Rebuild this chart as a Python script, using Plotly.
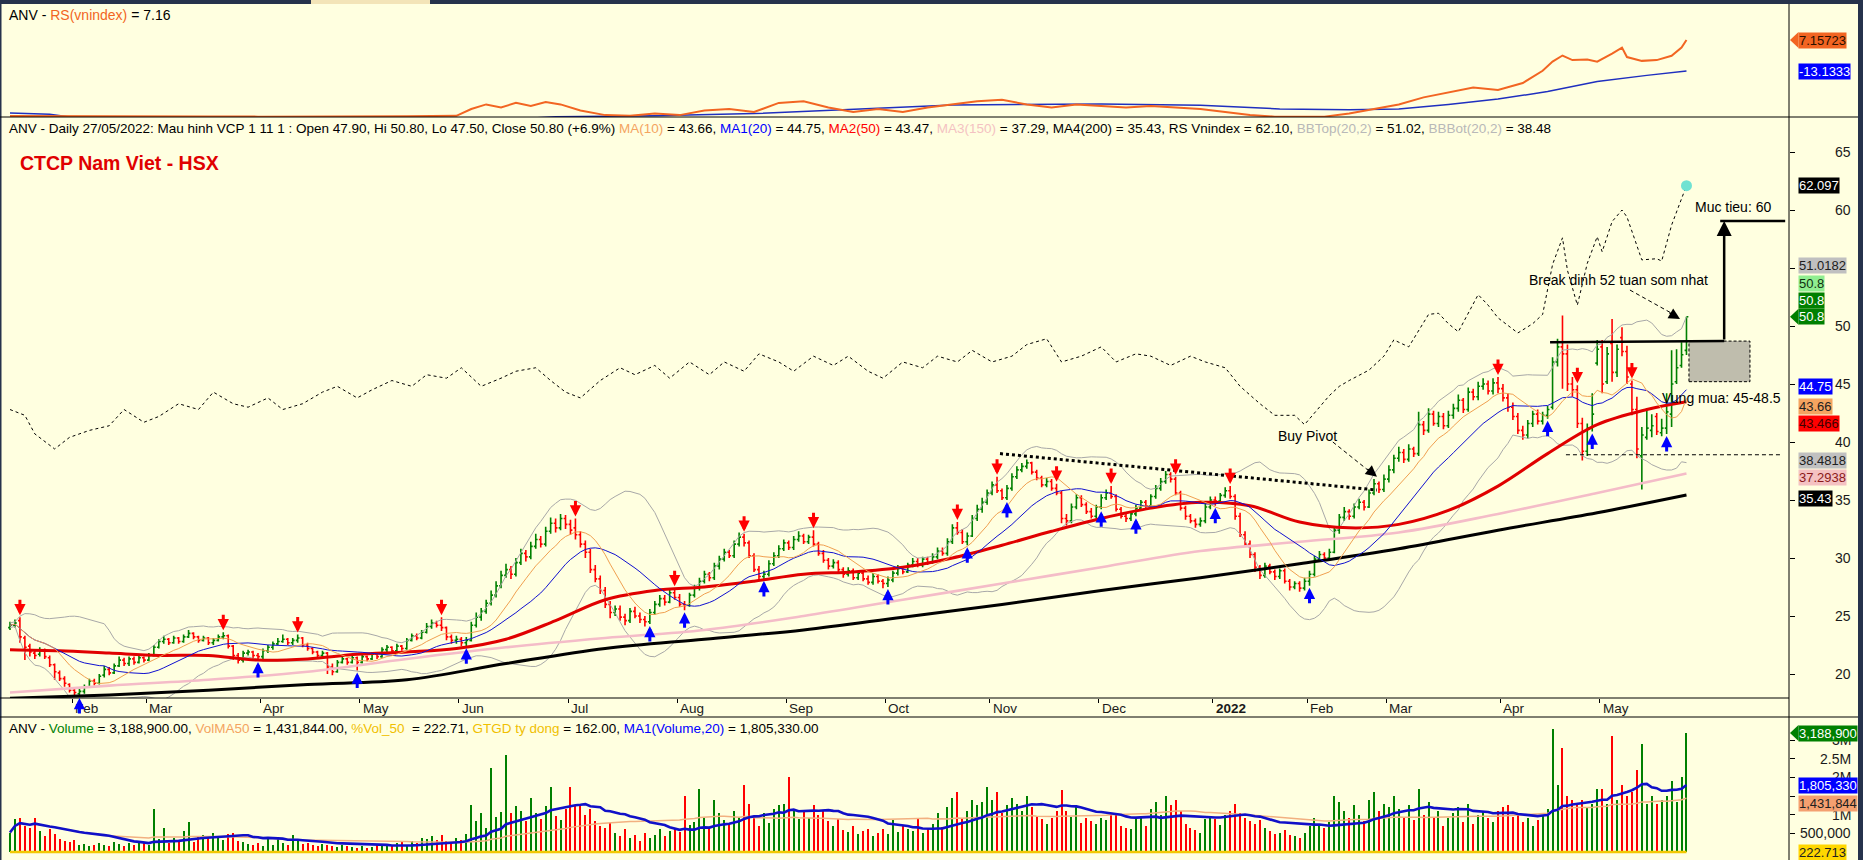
import numpy as np
import pandas as pd
import plotly.graph_objects as go

W, H = 1863, 860
FONT = "Liberation Sans, Arial, sans-serif"

# ---------------- DATA ----------------
HOLIDAYS = ["2021-02-10", "2021-02-11", "2021-02-12", "2021-02-15", "2021-02-16",
            "2021-04-21", "2021-04-30", "2021-05-03", "2021-09-02", "2021-09-03",
            "2022-01-03", "2022-01-31", "2022-02-01", "2022-02-02", "2022-02-03",
            "2022-02-04", "2022-04-11", "2022-05-02", "2022-05-03"]

CLOSE = [
    24.2, 24.4, 23.2, 22.3, 21.9, 21.6, 22.0, 21.5, 20.8, 20.2, 19.6, 19.2,
    18.6, 18.4, 18.5, 18.9, 19.4, 19.2, 19.8, 20.4, 20.1, 20.7, 21.2, 20.9, 21.3, 21.0, 21.4,
    21.2, 21.6, 22.3, 22.8, 23.0, 22.7, 23.1, 22.8, 23.2, 23.5, 23.2, 22.9, 23.1, 22.7, 22.9, 23.2, 23.3, 22.4, 21.6, 21.2, 21.8, 21.9, 21.6,
    21.5, 22.0, 22.3, 22.6, 22.8, 23.0, 22.7, 22.9, 23.1, 22.5, 22.2, 21.9, 21.6, 21.8, 20.6, 20.2, 21.0, 21.3, 21.0, 21.4,
    21.0, 21.5, 21.3, 21.7, 21.5, 22.1, 22.3, 22.0, 22.4, 22.2, 22.9, 23.3, 23.1, 23.6, 24.1, 24.4, 24.2, 24.0, 23.2, 22.9,
    23.0, 22.7, 22.9, 24.2, 24.9, 25.4, 26.1, 26.8, 27.6, 28.5, 29.0, 28.6, 29.6, 30.4, 30.1, 31.0, 31.6, 31.2, 32.3, 33.0, 32.6, 33.4,
    32.9, 32.4, 32.0, 31.2, 30.5, 29.0, 28.2, 27.2, 26.0, 25.3, 25.6, 24.9, 24.6, 25.4, 25.0, 24.7, 24.5, 25.3, 26.0, 26.5, 26.2, 27.0,
    26.6, 26.0, 25.9, 26.8, 27.4, 28.0, 28.6, 28.3, 29.3, 29.9, 30.5, 30.2, 31.2, 31.8, 31.3, 30.2, 29.0, 28.4, 28.6, 29.5, 30.2, 30.8,
    31.3, 30.9, 31.6, 31.9, 31.4, 31.8, 31.2, 30.4, 29.8, 29.3, 29.6, 29.0, 28.6, 28.9, 28.3, 28.7, 28.2, 27.9, 28.4, 28.0,
    27.8, 28.1, 28.7, 29.1, 28.8, 29.4, 29.7, 29.4, 29.9, 29.6, 30.1, 30.6, 30.4, 31.4, 32.6, 32.2, 31.4, 31.9, 33.4, 34.2, 34.8,
    35.6, 36.3, 35.8, 35.2, 36.0, 37.0, 37.6, 37.9, 38.2, 37.4, 36.9, 36.3, 36.6, 36.0, 35.6, 33.4, 33.2, 34.4, 35.2, 34.6, 34.0, 33.6,
    34.4, 35.2, 35.6, 35.3, 34.2, 33.6, 33.4, 33.8, 34.3, 34.8, 34.5, 35.3, 36.0, 36.6, 37.2, 36.8, 35.6, 34.3, 33.6, 33.2, 32.9, 33.2, 34.4,
    35.0, 34.9, 35.4, 35.8, 35.3, 33.6, 32.0, 31.2, 30.3, 29.2, 28.5, 29.3, 28.8, 28.4, 28.9, 28.0, 27.5, 27.8, 27.4,
    28.0, 28.6, 29.9, 30.3, 30.0, 30.5, 32.4, 33.5, 34.0, 33.6, 34.4, 34.8, 34.4, 35.6, 36.4, 35.9,
    36.8, 37.6, 38.6, 39.1, 38.5, 39.4, 39.0, 41.5, 41.0, 42.4, 41.6, 42.2, 41.4, 42.3, 42.9, 43.6, 42.8, 44.3, 43.9, 44.8, 45.0, 44.4, 45.1,
    44.6, 43.8, 43.0, 42.2, 41.0, 40.6, 41.6, 42.4, 41.8, 42.3, 42.8, 46.9, 48.2, 47.6, 45.0, 44.5, 41.6, 39.2, 41.2, 42.4,
    48.0, 45.0, 47.6, 46.0, 48.0, 47.8, 45.6, 42.8, 39.4, 40.6, 41.2, 41.4, 40.9, 41.2, 42.6, 45.0, 46.4, 47.52, 50.8,
]

OPEN = [
    24.0, 24.2, 24.6, 23.1, 22.4, 21.8, 21.7, 22.0, 21.4, 20.8, 20.1, 19.6,
    19.1, 18.6, 18.3, 18.5, 18.9, 19.4, 19.2, 19.9, 20.4, 20.1, 20.7, 21.2, 20.9, 21.3, 21.0,
    21.4, 21.2, 21.6, 22.3, 22.8, 23.0, 22.7, 23.1, 22.8, 23.2, 23.5, 23.2, 22.9, 23.1, 22.7, 22.9, 23.2, 23.3, 22.4, 21.6, 21.2, 21.8, 21.9,
    21.6, 21.5, 22.0, 22.3, 22.6, 22.8, 23.0, 22.7, 22.9, 23.1, 22.5, 22.2, 21.9, 21.6, 21.8, 20.6, 20.2, 21.0, 21.3, 21.0,
    21.4, 21.0, 21.5, 21.3, 21.7, 21.5, 22.1, 22.3, 22.0, 22.4, 22.2, 22.9, 23.3, 23.1, 23.6, 24.1, 24.4, 24.2, 24.0, 23.2,
    22.9, 23.0, 22.7, 22.9, 24.2, 24.9, 25.4, 26.1, 26.8, 27.6, 28.5, 29.0, 28.6, 29.6, 30.4, 30.1, 31.0, 31.6, 31.2, 32.3, 33.0, 32.6,
    33.4, 32.9, 32.6, 32.0, 31.2, 30.5, 29.0, 28.2, 27.2, 26.0, 25.3, 25.6, 24.9, 24.6, 25.4, 25.0, 24.7, 24.5, 25.3, 26.0, 26.5, 26.2,
    27.0, 26.6, 26.0, 25.9, 26.8, 27.4, 28.0, 28.6, 28.3, 29.3, 29.9, 30.5, 30.2, 31.2, 31.8, 31.3, 30.2, 29.0, 28.4, 28.6, 29.5, 30.2,
    30.8, 31.3, 30.9, 31.6, 31.9, 31.4, 31.8, 31.2, 30.4, 29.8, 29.3, 29.6, 29.0, 28.6, 28.9, 28.3, 28.7, 28.2, 27.9, 28.4,
    28.0, 27.8, 28.1, 28.7, 29.1, 28.8, 29.4, 29.7, 29.4, 29.9, 29.6, 30.1, 30.6, 30.4, 31.4, 32.6, 32.2, 31.4, 31.9, 33.4, 34.2,
    34.8, 35.6, 36.3, 35.8, 35.2, 36.0, 37.0, 37.6, 37.9, 38.2, 37.4, 36.9, 36.3, 36.6, 36.0, 35.6, 33.4, 33.2, 34.4, 35.2, 34.6, 34.0,
    33.6, 34.4, 35.2, 35.6, 35.3, 34.2, 33.6, 33.4, 33.8, 34.3, 34.8, 34.5, 35.3, 36.0, 36.6, 37.2, 36.8, 35.6, 34.3, 33.6, 33.2, 32.9, 33.2,
    34.4, 35.0, 34.9, 35.4, 35.8, 35.3, 33.6, 32.0, 31.2, 30.3, 29.2, 28.5, 29.3, 28.8, 28.4, 28.9, 28.0, 27.5, 27.8,
    27.4, 28.0, 28.6, 29.9, 30.3, 30.0, 30.5, 32.4, 33.5, 34.0, 33.6, 34.4, 34.8, 34.4, 35.6, 36.4,
    35.9, 36.8, 37.6, 38.6, 39.1, 38.5, 39.4, 39.0, 41.5, 41.0, 42.4, 41.6, 42.2, 41.4, 42.3, 42.9, 43.6, 42.8, 44.3, 43.9, 44.8, 45.0, 44.4,
    45.1, 44.6, 43.8, 43.0, 42.2, 41.0, 40.6, 41.6, 42.4, 41.8, 42.3, 43.0, 46.9, 48.2, 47.6, 45.0, 44.5, 41.6, 39.2, 41.2,
    46.8, 48.2, 45.2, 48.5, 46.0, 49.0, 47.8, 45.0, 42.8, 38.8, 40.4, 41.0, 42.2, 40.8, 41.2, 42.4, 45.2, 46.6, 47.9,
]

HIGH = [
    24.5, 24.7, 24.9, 23.3, 22.6, 22.1, 22.3, 22.2, 21.6, 20.9, 20.3, 19.8,
    19.2, 18.8, 18.7, 19.1, 19.6, 19.6, 20.0, 20.7, 20.6, 20.9, 21.5, 21.4, 21.5, 21.5, 21.6,
    21.5, 21.8, 22.5, 23.0, 23.3, 23.1, 23.3, 23.2, 23.4, 23.8, 23.6, 23.3, 23.3, 23.2, 23.1, 23.4, 23.6, 23.4, 22.5, 21.8, 22.0, 22.1, 22.0,
    21.8, 22.2, 22.5, 22.8, 23.1, 23.4, 23.1, 23.1, 23.4, 23.2, 22.7, 22.3, 22.0, 22.0, 21.9, 20.9, 21.2, 21.5, 21.4, 21.6,
    21.5, 21.7, 21.6, 21.9, 21.8, 22.3, 22.5, 22.4, 22.6, 22.5, 23.1, 23.5, 23.5, 23.8, 24.4, 24.7, 24.6, 24.9, 24.1, 23.4,
    23.3, 23.2, 23.2, 24.5, 25.3, 25.7, 26.4, 27.2, 28.0, 28.9, 29.5, 29.3, 30.0, 30.8, 30.7, 31.4, 32.1, 31.9, 32.7, 33.5, 33.4, 33.8,
    33.7, 33.3, 33.4, 32.3, 31.5, 30.8, 29.4, 28.5, 27.5, 26.3, 25.9, 25.9, 25.2, 25.7, 25.8, 25.3, 25.0, 25.6, 26.3, 26.8, 26.8, 27.3,
    27.4, 26.9, 26.3, 27.0, 27.7, 28.3, 28.9, 28.8, 29.6, 30.2, 30.8, 30.7, 31.5, 32.2, 32.1, 31.5, 30.4, 29.3, 28.9, 29.8, 30.5, 31.1,
    31.6, 31.5, 31.9, 32.3, 32.1, 32.0, 32.4, 31.4, 30.7, 30.0, 29.9, 29.8, 29.2, 29.2, 29.1, 28.9, 28.9, 28.5, 28.7, 28.6,
    28.2, 28.4, 28.9, 29.4, 29.3, 29.6, 30.0, 30.0, 30.1, 30.1, 30.4, 30.9, 30.9, 31.7, 32.9, 33.1, 32.5, 32.2, 33.7, 34.6, 35.2,
    35.9, 36.6, 37.0, 36.0, 36.3, 37.3, 37.9, 38.2, 38.5, 38.3, 37.6, 37.1, 36.9, 36.8, 36.4, 35.8, 33.8, 34.7, 35.5, 35.4, 34.8, 34.3,
    34.6, 35.5, 35.9, 36.2, 35.5, 34.4, 33.9, 34.0, 34.6, 35.0, 35.0, 35.5, 36.3, 36.9, 37.5, 37.4, 37.0, 35.8, 34.5, 33.8, 33.4, 33.5, 34.7,
    35.3, 35.3, 35.6, 36.1, 36.2, 35.5, 33.9, 32.3, 31.5, 30.5, 29.4, 29.6, 29.5, 29.0, 29.1, 29.1, 28.2, 28.0, 28.0,
    28.3, 28.9, 30.2, 30.6, 30.5, 30.8, 32.6, 33.8, 34.4, 34.2, 34.7, 35.1, 35.0, 35.9, 36.8, 36.6,
    37.2, 38.0, 38.9, 39.6, 39.4, 39.8, 39.6, 42.6, 41.8, 42.9, 42.7, 42.6, 42.5, 42.7, 43.3, 44.1, 43.8, 44.7, 44.6, 45.2, 45.5, 45.3, 45.5,
    45.6, 45.0, 44.2, 43.4, 42.5, 41.4, 41.9, 42.7, 42.8, 42.6, 43.1, 47.3, 48.9, 50.9, 48.4, 45.6, 44.9, 42.1, 41.6, 44.2,
    48.8, 48.8, 48.2, 50.6, 48.4, 49.9, 48.3, 45.3, 43.9, 41.3, 42.8, 42.4, 42.5, 42.0, 44.2, 47.9, 48.0, 48.6, 50.8,
]

LOW = [
    23.8, 24.0, 22.7, 21.2, 21.5, 21.3, 21.5, 21.3, 20.6, 19.5, 19.4, 18.9,
    18.4, 18.2, 18.1, 18.3, 18.8, 19.0, 19.1, 19.7, 19.9, 20.0, 20.6, 20.7, 20.7, 20.8, 20.9,
    21.0, 21.1, 21.5, 22.2, 22.6, 22.5, 22.6, 22.6, 22.7, 23.1, 23.0, 22.7, 22.8, 22.5, 22.5, 22.8, 23.0, 22.2, 21.2, 20.9, 21.0, 21.6, 21.3,
    21.2, 21.3, 21.8, 22.1, 22.5, 22.7, 22.5, 22.5, 22.7, 22.3, 22.0, 21.7, 21.4, 21.4, 20.0, 19.9, 20.1, 20.9, 20.8, 20.9,
    20.3, 20.9, 21.1, 21.2, 21.3, 21.4, 21.9, 21.8, 21.9, 22.0, 22.1, 22.8, 22.9, 23.0, 23.5, 23.9, 24.0, 23.7, 22.9, 22.6,
    22.6, 22.4, 22.4, 22.8, 24.0, 24.6, 25.2, 25.9, 26.6, 27.4, 28.3, 28.2, 28.4, 29.4, 29.7, 29.9, 30.8, 30.9, 31.0, 32.1, 32.2, 32.4,
    32.5, 32.0, 31.6, 30.9, 30.0, 28.7, 27.9, 26.9, 25.7, 24.8, 25.0, 24.6, 24.2, 24.4, 24.8, 24.4, 24.1, 24.3, 25.1, 25.8, 25.9, 26.1,
    26.4, 25.8, 25.5, 25.8, 26.6, 27.2, 27.8, 28.0, 28.1, 29.0, 29.7, 30.0, 30.0, 31.0, 31.0, 30.0, 28.8, 28.1, 28.2, 28.4, 29.3, 30.0,
    30.6, 30.7, 30.7, 31.4, 31.2, 31.2, 31.0, 30.2, 29.6, 29.0, 29.1, 28.8, 28.3, 28.4, 28.1, 28.1, 28.0, 27.7, 27.7, 27.8,
    27.4, 27.5, 27.9, 28.5, 28.6, 28.7, 29.2, 29.2, 29.2, 29.4, 29.5, 29.9, 30.2, 30.2, 31.2, 32.0, 31.2, 31.1, 31.8, 33.2, 33.9,
    34.6, 35.4, 35.6, 35.0, 35.0, 35.8, 36.8, 37.4, 37.7, 37.2, 36.7, 36.1, 36.1, 35.8, 35.4, 33.0, 32.8, 33.0, 34.2, 34.4, 33.8, 33.4,
    33.4, 34.2, 35.0, 35.1, 34.0, 33.4, 33.1, 33.2, 33.6, 34.1, 34.3, 34.3, 35.1, 35.8, 36.4, 36.5, 35.4, 34.1, 33.3, 33.0, 32.6, 32.7, 33.0,
    34.2, 34.5, 34.7, 35.2, 35.1, 33.3, 31.8, 31.0, 30.0, 28.8, 28.2, 28.3, 28.6, 28.1, 28.2, 27.8, 27.2, 27.3, 27.1,
    27.2, 27.6, 28.4, 29.7, 29.8, 29.8, 30.4, 32.1, 33.2, 33.3, 33.4, 34.2, 34.1, 34.3, 35.4, 35.6,
    35.7, 36.5, 37.3, 38.3, 38.2, 38.3, 38.7, 38.8, 40.6, 40.8, 41.4, 41.3, 41.1, 41.2, 42.0, 42.6, 42.5, 42.6, 43.6, 43.6, 44.5, 44.1, 44.1,
    44.2, 43.5, 42.6, 41.9, 40.7, 40.2, 40.3, 41.3, 41.5, 41.5, 42.0, 42.8, 46.5, 44.6, 44.4, 43.9, 41.2, 38.4, 38.8, 40.9,
    46.6, 44.2, 45.0, 45.2, 45.6, 47.4, 45.0, 42.3, 38.6, 35.9, 40.2, 40.4, 40.6, 40.5, 40.7, 41.3, 45.0, 46.4, 47.5,
]

VOLUME_K = [
    520, 880, 920, 700, 640, 900, 560, 420, 610, 480, 350, 300,
    260, 310, 180, 220, 160, 190, 230, 200, 170, 260, 210, 150, 240, 190, 280,
    230, 180, 1140, 350, 650, 240, 380, 300, 560, 800, 280, 430, 460, 380, 510, 420, 310, 490, 520, 300, 260, 210, 190,
    230, 160, 360, 200, 390, 250, 180, 450, 310, 210, 250, 180, 150, 220, 200, 170, 140, 180, 150, 130,
    120, 160, 110, 140, 180, 150, 200, 170, 230, 260, 190, 300, 250, 380, 350, 420, 330, 460, 290, 260,
    380, 310, 480, 1250, 820, 1050, 650, 2250, 950, 1080, 2600, 1040, 1220, 1100, 820, 1450, 1040, 880, 1220, 1750, 970, 860,
    1150, 1750, 1240, 1300, 980, 1150, 820, 700, 650, 780, 520, 430, 610, 380, 450, 300, 520, 380, 460, 610, 420, 560,
    650, 530, 1500, 720, 800, 1700, 900, 640, 1400, 1050, 860, 720, 1100, 940, 1800, 1300, 900, 700, 1050, 780, 1150, 1250,
    1300, 2000, 1150, 880, 1080, 900, 1250, 980, 1100, 830, 700, 880, 600, 540, 700, 480, 550, 620, 430, 510,
    620, 480, 850, 540, 700, 620, 560, 880, 500, 620, 760, 1050, 680, 1200, 1450, 1600, 900, 1100, 1400, 1250, 1350,
    1750, 1400, 1600, 1050, 1250, 1450, 1300, 1100, 1500, 1200, 950, 880, 760, 900, 1100, 1650, 1100, 950, 1200, 780, 900, 820,
    760, 920, 850, 1050, 980, 700, 650, 620, 880, 940, 700, 1150, 1350, 1000, 1500, 1250, 1400, 1100, 760, 650, 600, 520, 880,
    950, 880, 720, 1000, 1100, 1300, 1050, 900, 820, 760, 850, 640, 560, 480, 520, 600, 450, 420, 380,
    520, 700, 900, 760, 640, 800, 1500, 1350, 1100, 900, 1250, 1000, 820, 1400, 1600, 1100,
    1300, 1200, 1500, 1150, 900, 1250, 850, 1700, 1000, 1350, 950, 1100, 700, 900, 1050, 1200, 800, 1300, 750, 1000, 1100, 900, 800,
    1100, 1200, 1250, 950, 1000, 800, 900, 700, 850, 1000, 1150, 3300, 1800, 2800, 1500, 1400, 1300, 1400, 1200, 1300,
    1700, 1700, 1300, 3100, 1400, 1800, 1500, 1600, 2200, 2900, 1300, 1500, 1300, 1400, 1500, 1900, 1350, 2000, 3188.9,
]

RED_SIGNALS = [2, 43, 58, 87, 114, 134, 148, 162, 191, 199, 211, 222, 235, 246, 300, 316, 327]
BLUE_SIGNALS = [14, 50, 70, 92, 129, 136, 152, 177, 193, 201, 220, 227, 243, 262, 310, 319, 334]

MA50_X = [0, 10, 20, 30, 40, 50, 60, 70, 80, 90, 100, 110, 120, 130, 140, 150, 160, 170, 180, 190,
          200, 210, 220, 230, 240, 250, 260, 270, 280, 290, 300, 310, 320, 330, 338]
MA50_V = [22.1, 22.0, 21.8, 21.6, 21.6, 21.2, 21.3, 21.7, 21.9, 22.2, 23.0, 24.6, 26.4, 27.2, 27.5, 28.0,
          28.6, 28.8, 29.2, 30.0, 31.1, 32.3, 33.4, 34.3, 34.8, 34.5, 33.1, 32.6, 32.9, 34.1, 36.2, 39.0,
          41.5, 42.8, 43.47]
MA150_X = [0, 20, 40, 60, 80, 100, 120, 140, 160, 180, 200, 220, 240, 260, 280, 300, 320, 338]
MA150_V = [18.4, 19.0, 19.5, 20.2, 21.3, 22.3, 23.1, 23.8, 25.0, 26.4, 27.8, 29.2, 30.6, 31.4, 32.2,
           33.8, 35.6, 37.29]
MA200_X = [0, 20, 40, 60, 80, 100, 120, 140, 160, 180, 200, 220, 240, 260, 280, 300, 320, 338]
MA200_V = [17.9, 18.2, 18.6, 19.1, 19.5, 20.9, 22.2, 23.0, 23.8, 24.9, 26.0, 27.2, 28.3, 29.5, 30.8,
           32.4, 33.9, 35.43]

# RS Vnindex, drawn dotted on the price scale
RSV_X = [0, 3, 5, 9, 12, 16, 20, 23, 27, 30, 34, 38, 41, 45, 48, 52, 55, 59, 63, 66,
         70, 73, 77, 81, 84, 88, 91, 95, 99, 102, 106, 109, 112, 115, 119, 123, 126, 130, 133, 137,
         141, 144, 148, 151, 155, 158, 162, 166, 169, 173, 176, 180, 184, 187, 191, 194, 198, 202, 205, 209,
         212, 216, 220, 223, 227, 230, 234, 238, 241, 245, 248, 252, 255, 259, 261, 264, 266, 268, 270, 274,
         277, 279, 282, 286, 288, 290, 292, 296, 298, 300, 304, 307, 309, 311, 313, 314, 316, 318, 320, 321,
         323, 325, 326, 329, 332, 333, 335, 338]
RSV_V = [42.8, 42.3, 40.7, 39.4, 40.4, 41.0, 41.4, 42.8, 41.7, 42.2, 43.3, 42.8, 44.3, 43.3, 43.0, 43.8, 42.8, 43.3, 44.3, 44.8,
         43.8, 44.5, 45.3, 44.8, 45.8, 45.5, 46.4, 44.8, 45.5, 46.1, 46.4, 45.3, 44.3, 43.8, 45.3, 46.4, 45.8, 46.6, 45.5, 46.9,
         45.8, 46.9, 46.1, 47.6, 46.9, 46.1, 47.4, 46.6, 47.4, 46.1, 45.5, 46.9, 46.4, 47.4, 46.9, 47.9, 46.9, 47.4, 48.4, 48.9,
         46.9, 47.4, 48.2, 46.9, 47.6, 47.4, 46.6, 47.4, 46.9, 46.4, 44.8, 43.3, 42.3, 42.3, 41.5, 43.0, 44.0, 44.8, 45.3, 46.2,
         47.4, 48.8, 48.2, 51.0, 51.1, 50.2, 49.5, 52.7, 51.8, 50.7, 49.4, 50.2, 51.0, 55.3, 57.6, 54.8, 51.8, 55.4, 57.7, 56.4,
         59.0, 60.0, 59.4, 55.7, 55.8, 55.6, 58.7, 62.1]

# RS(vnindex) panel
RS_X = [0, 5, 10, 15, 20, 30, 40, 50, 60, 70, 80, 90, 93, 96, 99, 102, 105, 108, 111,
        115, 120, 125, 130, 135, 140, 145, 150, 155, 160, 165, 170, 175, 180, 185, 190, 195, 200, 205, 210,
        215, 220, 225, 230, 235, 240, 245, 250, 255, 260, 265, 270, 275, 280, 285, 290, 295, 300, 305,
        309, 311, 313, 315, 318, 320, 323, 325, 326, 329, 332, 335, 337, 338]
RS_V = [-42.6, -42.7, -42.8, -42.9, -43.0, -43.0, -42.9, -43.0, -43.0, -42.8, -42.7, -42.5, -38, -35, -37, -34, -36, -33.5, -35,
        -39, -42, -42.5, -41, -42, -39, -38, -40, -34, -33, -37, -40, -38, -40, -37, -35, -33, -32, -35, -37,
        -35, -36, -37, -36, -37, -38, -40, -42, -43, -43, -43, -41, -38, -35, -30.4, -27, -24, -25.6, -21,
        -13, -7, -3, -6, -5.6, -7, -1.7, 2.2, -4, -6.5, -6, -3.2, 2.2, 7.16]
RSMA_X = [0, 8, 15, 60, 100, 110, 130, 150, 190, 220, 240, 256, 270, 280, 290, 300, 310, 320, 330, 338]
RSMA_V = [-40.7, -41.5, -44.5, -46, -45, -43, -42.5, -41, -35.4, -34.7, -35.5, -38, -38.5, -38, -35,
          -31.5, -26.6, -20, -16, -13.13]

PRICE_TICKS = [20, 25, 30, 35, 40, 45, 50, 55, 60, 65]
PRICE_TICK_LABELS = [20, 25, 30, 35, 40, 45, 50, 60, 65]          # 55 sits under a value box
VOL_TICKS = [500000, 1000000, 1500000, 2000000, 2500000, 3000000]
VOL_TICK_LABELS = [(500000, "500,000"), (1000000, "1M"), (2000000, "2M"), (2500000, "2.5M"), (3000000, "3M")]

# ---------------- derived ----------------
dates = pd.bdate_range("2021-01-13", "2022-05-27")
dates = dates[~dates.isin(pd.to_datetime(HOLIDAYS))]
n = len(dates)
assert n == len(CLOSE) == len(OPEN) == len(HIGH) == len(LOW) == len(VOLUME_K), \
    (n, len(CLOSE), len(OPEN), len(HIGH), len(LOW), len(VOLUME_K))

idx = np.arange(n)
o = np.array(OPEN); c = np.array(CLOSE)
h = np.maximum.reduce([np.array(HIGH), o, c])
l = np.minimum.reduce([np.array(LOW), o, c])
vol = np.array(VOLUME_K) * 1000.0

cs = pd.Series(c)
ma10 = cs.rolling(10, min_periods=1).mean()
ma20 = cs.rolling(20, min_periods=1).mean()
sd20 = cs.rolling(20, min_periods=2).std(ddof=0).bfill()
bbt = ma20 + 2 * sd20
bbb = ma20 - 2 * sd20

vs = pd.Series(vol)
vma20 = vs.rolling(20, min_periods=1).mean()
vma50 = vs.rolling(50, min_periods=1).mean()
pct50 = vs / vma50 * 100.0

vcol = []
for k in range(n):
    ref = c[k - 1] if k > 0 else o[k]
    vcol.append("#008000" if c[k] >= ref else "#FF0000")

month_pos, month_txt = [], []
for k in range(1, n):
    if dates[k].month != dates[k - 1].month:
        month_pos.append(k - 0.5)
        month_txt.append("<b>2022</b>" if dates[k].month == 1 else dates[k].strftime("%b"))

# ---------------- geometry helpers ----------------
def py(p):
    return 1 - p / H

def px(p):
    return p / W

XR = [-1.613, 358.67]
XD = [px(2), px(1789)]

fig = go.Figure()

# RS panel
fig.add_trace(go.Scatter(x=RSMA_X, y=RSMA_V, mode="lines", line=dict(color="#1F2FBF", width=1.5),
                         xaxis="x", yaxis="y", hoverinfo="skip"))
fig.add_trace(go.Scatter(x=RS_X, y=RS_V, mode="lines", line=dict(color="#F26522", width=2),
                         xaxis="x", yaxis="y", hoverinfo="skip"))

# Main panel
for ser in (bbt, bbb):
    fig.add_trace(go.Scatter(x=idx, y=ser, mode="lines", line=dict(color="#A8A8A8", width=1),
                             xaxis="x2", yaxis="y2", hoverinfo="skip"))
fig.add_trace(go.Scatter(x=MA150_X, y=MA150_V, mode="lines", line=dict(color="#F4BCC8", width=2.6, shape="spline"),
                         xaxis="x2", yaxis="y2", hoverinfo="skip"))
fig.add_trace(go.Scatter(x=MA200_X, y=MA200_V, mode="lines", line=dict(color="#000000", width=3, shape="spline"),
                         xaxis="x2", yaxis="y2", hoverinfo="skip"))
fig.add_trace(go.Scatter(x=MA50_X, y=MA50_V, mode="lines", line=dict(color="#E00000", width=3, shape="spline"),
                         xaxis="x2", yaxis="y2", hoverinfo="skip"))
fig.add_trace(go.Scatter(x=idx, y=ma20, mode="lines", line=dict(color="#1010D0", width=1),
                         xaxis="x2", yaxis="y2", hoverinfo="skip"))
fig.add_trace(go.Scatter(x=idx, y=ma10, mode="lines", line=dict(color="#F0A050", width=1),
                         xaxis="x2", yaxis="y2", hoverinfo="skip"))
fig.add_trace(go.Scatter(x=RSV_X, y=RSV_V, mode="lines", line=dict(color="#000000", width=1, dash="3px,3px"),
                         xaxis="x2", yaxis="y2", hoverinfo="skip"))
fig.add_trace(go.Ohlc(x=idx, open=o, high=h, low=l, close=c, tickwidth=0.38,
                      increasing=dict(line=dict(color="#008000", width=1.6)),
                      decreasing=dict(line=dict(color="#FF0000", width=1.6)),
                      xaxis="x2", yaxis="y2", hoverinfo="skip"))
fig.add_trace(go.Scatter(x=[RSV_X[-1]], y=[RSV_V[-1]], mode="markers",
                         marker=dict(color="#70E2D2", size=11), xaxis="x2", yaxis="y2", hoverinfo="skip"))

# Volume panel
fig.add_trace(go.Bar(x=idx, y=vol, width=0.4, marker=dict(color=vcol, line=dict(width=0)),
                     xaxis="x3", yaxis="y3", hoverinfo="skip"))
fig.add_trace(go.Scatter(x=idx, y=vma50, mode="lines", line=dict(color="#F2B080", width=1.5),
                         xaxis="x3", yaxis="y3", hoverinfo="skip"))
fig.add_trace(go.Scatter(x=idx, y=vma20, mode="lines", line=dict(color="#1010C8", width=2.6),
                         xaxis="x3", yaxis="y3", hoverinfo="skip"))
fig.add_trace(go.Scatter(x=idx, y=pct50, mode="lines", line=dict(color="#F2C800", width=2.5),
                         xaxis="x3", yaxis="y3", hoverinfo="skip"))

# ---------------- shapes ----------------
shapes = []
dark = "#26324C"
shapes.append(dict(type="rect", xref="paper", yref="paper", x0=0, x1=1, y0=py(4), y1=1,
                   fillcolor=dark, line=dict(width=0), layer="above"))
shapes.append(dict(type="rect", xref="paper", yref="paper", x0=px(311), x1=px(430), y0=py(4), y1=1,
                   fillcolor="#F3E4B8", line=dict(width=0), layer="above"))
shapes.append(dict(type="rect", xref="paper", yref="paper", x0=px(1858), x1=1, y0=0, y1=1,
                   fillcolor=dark, line=dict(width=0), layer="above"))
shapes.append(dict(type="rect", xref="paper", yref="paper", x0=0, x1=px(1.5), y0=0, y1=1,
                   fillcolor=dark, line=dict(width=0), layer="above"))
for yy, xe in ((117, 1858), (698, 1789), (717, 1858)):
    shapes.append(dict(type="line", xref="paper", yref="paper", x0=0, x1=px(xe), y0=py(yy), y1=py(yy),
                       line=dict(color="#000000", width=1), layer="above"))
shapes.append(dict(type="line", xref="paper", yref="paper", x0=px(1789), x1=px(1789), y0=0, y1=py(4),
                   line=dict(color="#000000", width=1), layer="above"))

# drawings on the price panel
shapes.append(dict(type="line", xref="x2", yref="y2", x0=199.6, y0=39.0, x1=275.6, y1=35.86,
                   line=dict(color="#000000", width=3, dash="3px,3px")))
shapes.append(dict(type="line", xref="x2", yref="y2", x0=266.7, y0=40.0, x1=274.0, y1=37.5,
                   line=dict(color="#000000", width=1, dash="4px,3px")))
shapes.append(dict(type="line", xref="x2", yref="y2", x0=326.6, y0=53.1, x1=335.0, y1=51.1,
                   line=dict(color="#000000", width=1, dash="4px,3px")))
shapes.append(dict(type="rect", xref="x2", yref="y2", x0=338.5, x1=350.8, y0=45.2, y1=48.7,
                   fillcolor="#BFBDAD", line=dict(color="#000000", width=1, dash="3px,2px")))
shapes.append(dict(type="line", xref="x2", yref="y2", x0=310.5, y0=48.6, x1=345.6, y1=48.7,
                   line=dict(color="#000000", width=2.5)))
shapes.append(dict(type="line", xref="x2", yref="y2", x0=344.8, y0=59.05, x1=357.9, y1=59.05,
                   line=dict(color="#000000", width=2.5)))
shapes.append(dict(type="line", xref="x2", yref="y2", x0=313.7, y0=38.9, x1=357.3, y1=38.9,
                   line=dict(color="#000000", width=1, dash="4px,3px")))

# ---------------- annotations ----------------
ann = []
def txt(x, y, s, xref="paper", yref="paper", xanchor="left", size=14, color="#000000", **kw):
    d = dict(x=x, y=y, xref=xref, yref=yref, text=s, showarrow=False, xanchor=xanchor, yanchor="middle",
             font=dict(family=FONT, size=size, color=color))
    d.update(kw)
    return d

# axis tick labels (right aligned)
for v in PRICE_TICK_LABELS:
    ann.append(txt(px(1853), v, str(v), yref="y2", xanchor="right", color="#1A1A1A"))
for v, s in VOL_TICK_LABELS:
    ann.append(txt(px(1853), v, s, yref="y3", xanchor="right", color="#1A1A1A"))
for p, s in zip(month_pos, month_txt):
    ann.append(txt(p, py(708), s, xref="x2", xanchor="left", size=13.5, color="#1A1A1A", xshift=1))

# headers
ann.append(txt(px(7), py(15), 'ANV - <span style="color:#F26522">RS(vnindex)</span> = 7.16'))
ann.append(txt(px(7), py(128),
               'ANV - Daily 27/05/2022: Mau hinh VCP 1 11 1 : Open 47.90, Hi 50.80, Lo 47.50, Close 50.80 (+6.9%) '
               '<span style="color:#F4A460">MA(10)</span> = 43.66, <span style="color:#0000FF">MA1(20)</span> = 44.75, '
               '<span style="color:#FF0000">MA2(50)</span> = 43.47, <span style="color:#F4C2C2">MA3(150)</span> = 37.29, '
               'MA4(200) = 35.43, RS Vnindex = 62.10, <span style="color:#B8B8B8">BBTop(20,2)</span> = 51.02, '
               '<span style="color:#B8B8B8">BBBot(20,2)</span> = 38.48', size=13.5))
ann.append(txt(px(7), py(728),
               'ANV - <span style="color:#008000">Volume</span> = 3,188,900.00, <span style="color:#F4A460">VolMA50</span> = 1,431,844.00, '
               '<span style="color:#F0C000">%Vol_50</span>  = 222.71, <span style="color:#F0C000">GTGD ty dong</span> = 162.00, '
               '<span style="color:#0000FF">MA1(Volume,20)</span> = 1,805,330.00', size=13.5))
ann.append(txt(px(18), py(163), "<b>CTCP Nam Viet - HSX</b>", size=19.5, color="#E00000"))

# chart notes
ann.append(txt(261.5, 40.5, "Buy Pivot", xref="x2", yref="y2", xanchor="center"))
ann.append(txt(324.2, 54.0, "Break dinh 52 tuan som nhat", xref="x2", yref="y2", xanchor="center"))
ann.append(txt(347.4, 60.3, "Muc tieu: 60", xref="x2", yref="y2", xanchor="center"))
ann.append(txt(345.0, 43.8, "Vung mua: 45-48.5", xref="x2", yref="y2", xanchor="center"))

# arrows of the notes
ann.append(dict(x=275.6, y=37.0, xref="x2", yref="y2", text="", showarrow=True, ax=-11, ay=-9,
                arrowhead=2, arrowsize=1.6, arrowwidth=1.4, arrowcolor="#000000"))
ann.append(dict(x=336.7, y=50.6, xref="x2", yref="y2", text="", showarrow=True, ax=-12, ay=-7,
                arrowhead=2, arrowsize=1.6, arrowwidth=1.4, arrowcolor="#000000"))
ann.append(dict(x=345.6, y=59.05, xref="x2", yref="y2", text="", showarrow=True,
                ax=345.6, ay=48.7, axref="x2", ayref="y2",
                arrowhead=2, arrowsize=1.2, arrowwidth=2.5, arrowcolor="#000000"))

# signal arrows
for i in RED_SIGNALS:
    ann.append(dict(x=i, y=h[i], xref="x2", yref="y2", text="", showarrow=True, ax=0, ay=-19, standoff=2,
                    arrowhead=2, arrowsize=0.75, arrowwidth=3, arrowcolor="#FF0000"))
for i in BLUE_SIGNALS:
    ann.append(dict(x=i, y=l[i], xref="x2", yref="y2", text="", showarrow=True, ax=0, ay=19, standoff=2,
                    arrowhead=2, arrowsize=0.75, arrowwidth=3, arrowcolor="#0000FF"))

# value labels on the right
def vlabel(s, yref, yv, bg, fg, ys=0):
    return dict(x=px(1798), xref="paper", xanchor="left", y=yv, yref=yref, yanchor="middle", yshift=ys,
                text=s, showarrow=False, bgcolor=bg, borderpad=0,
                font=dict(family=FONT, size=13, color=fg))

LABELS = [
    ("7.15723", "y", 7.15723, "#F26522", "#2A1000", 0),
    ("-13.1333", "y", -13.1333, "#0000FF", "#FFFFFF", 0),
    ("62.097", "y2", 62.097, "#000000", "#FFFFFF", 0),
    ("51.0182", "y2", 51.0182, "#C0C0C0", "#202020", 49),
    ("50.8", "y2", 50.8, "#90EE90", "#103010", 33),
    ("50.8", "y2", 50.8, "#008000", "#FFFFFF", 16.5),
    ("50.8", "y2", 50.8, "#008000", "#FFFFFF", 0),
    ("44.75", "y2", 44.75, "#0000FF", "#FFFFFF", 0),
    ("43.66", "y2", 43.66, "#F4A460", "#202020", -6.5),
    ("43.466", "y2", 43.466, "#FF0000", "#400000", -22),
    ("38.4818", "y2", 38.4818, "#C0C0C0", "#202020", -1),
    ("37.2938", "y2", 37.2938, "#F4C2C2", "#8B1A1A", -4.6),
    ("35.43", "y2", 35.43, "#000000", "#FFFFFF", -3),
    ("3,188,900", "y3", 3188900, "#008000", "#FFFFFF", 0),
    ("1,805,330", "y3", 1805330, "#0000FF", "#FFFFFF", -1),
    ("1,431,844", "y3", 1431844, "#F4A070", "#202020", -5),
    ("222.713", "y3", 0, "#FFD700", "#202020", -1),
]
for s, yr, yv, bg, fg, ys in LABELS:
    ann.append(vlabel(s, yr, yv, bg, fg, ys))

# pointer triangles for the flagged labels
for yr, yv, half, col in (("y", 7.15723, 5.2, "#F26522"), ("y2", 50.8, 0.69, "#008000"),
                          ("y3", 3188900, 214000, "#008000")):
    shapes.append(dict(type="path", xref="paper", yref=yr,
                       path=f"M {px(1790)},{yv} L {px(1798.5)},{yv + half} L {px(1798.5)},{yv - half} Z",
                       fillcolor=col, line=dict(width=0), layer="above"))

axc = dict(range=XR, domain=XD, showgrid=False, zeroline=False, showticklabels=False, fixedrange=True)
fig.update_layout(
    width=W, height=H, margin=dict(l=0, r=0, t=0, b=0, pad=0),
    paper_bgcolor="#FFFFE0", plot_bgcolor="#FFFFE0", showlegend=False, bargap=0,
    xaxis=dict(**axc, anchor="y", ticks=""),
    xaxis2=dict(**axc, anchor="y2", ticks="outside", tickvals=month_pos, ticklen=4,
                tickcolor="#000000", tickwidth=1, rangeslider=dict(visible=False)),
    xaxis3=dict(**axc, anchor="y3", ticks=""),
    yaxis=dict(domain=[py(117), py(6)], range=[-43.24, 29.41], side="right", anchor="x",
               showgrid=False, zeroline=False, showticklabels=False, ticks="", fixedrange=True),
    yaxis2=dict(domain=[py(698), py(117)], range=[17.931, 68.017], side="right", anchor="x2",
                tickvals=PRICE_TICKS, ticks="outside", ticklen=5, tickcolor="#000000",
                showticklabels=False, showgrid=False, zeroline=False, fixedrange=True),
    yaxis3=dict(domain=[py(858), py(717)], range=[-161000, 3619000], side="right", anchor="x3",
                tickvals=VOL_TICKS, ticks="outside", ticklen=5, tickcolor="#000000",
                showticklabels=False, showgrid=False, zeroline=False, fixedrange=True),
    shapes=shapes, annotations=ann,
)

fig.write_html("out.html", config={"displayModeBar": False, "staticPlot": True},
               post_script="document.body.style.margin='0';document.body.style.overflow='hidden';")
